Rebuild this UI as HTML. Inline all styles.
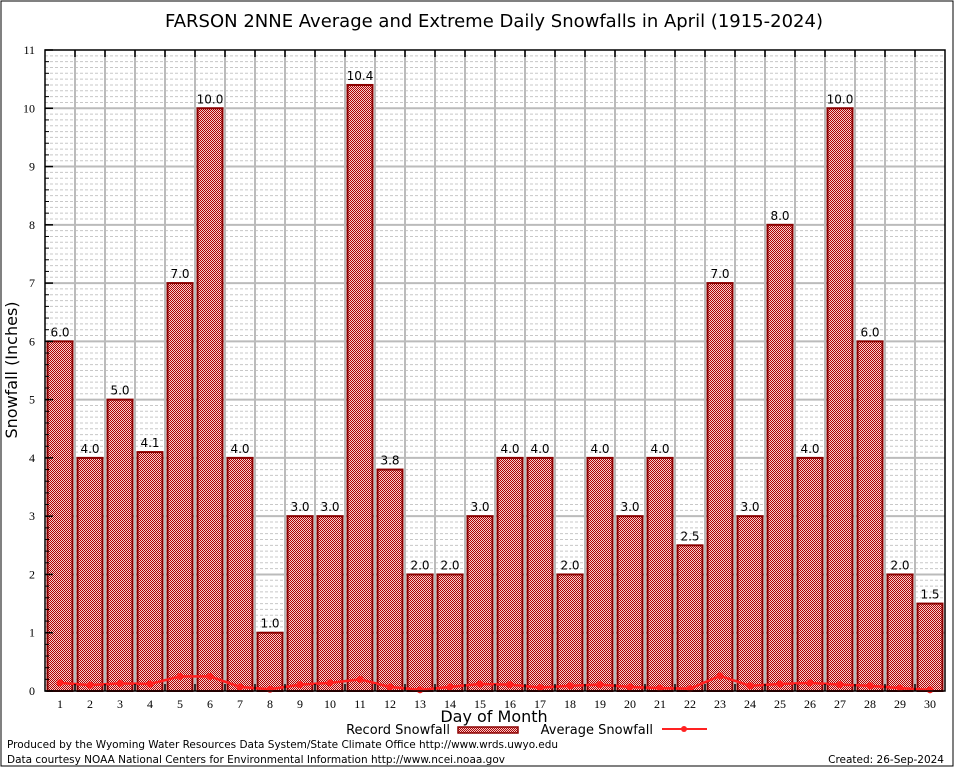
<!DOCTYPE html>
<html><head><meta charset="utf-8"><style>
html,body{margin:0;padding:0;background:#fff}
svg{display:block}
</style></head><body>
<svg id="chart" width="954" height="768" xmlns="http://www.w3.org/2000/svg">
<defs>
<pattern id="chk" width="2" height="2" patternUnits="userSpaceOnUse">
<rect width="2" height="2" fill="#f4d0d0" shape-rendering="crispEdges"/>
<rect width="1" height="1" fill="#b00000" shape-rendering="crispEdges"/>
<rect x="1" y="1" width="1" height="1" fill="#b00000" shape-rendering="crispEdges"/>
</pattern>
</defs>
<rect x="1" y="1" width="952" height="765" fill="none" stroke="#000" stroke-width="1"/>
<text x="494" y="27" text-anchor="middle" font-family="DejaVu Sans, Liberation Sans, sans-serif" font-size="18">FARSON 2NNE Average and Extreme Daily Snowfalls in April (1915-2024)</text>
<g id="grid"></g>
<g id="bars"></g>
<g id="avg"></g>
<g id="axes"></g>
<text x="17" y="370" transform="rotate(-90 17 370)" text-anchor="middle" font-family="DejaVu Sans, Liberation Sans, sans-serif" font-size="16">Snowfall (Inches)</text>
<text x="494" y="722" text-anchor="middle" font-family="DejaVu Sans, Liberation Sans, sans-serif" font-size="16">Day of Month</text>
<g>
<text x="450" y="734" text-anchor="end" font-family="DejaVu Sans, Liberation Sans, sans-serif" font-size="13">Record Snowfall</text>
<rect x="458" y="727" width="60" height="6" fill="url(#chk)" stroke="#8b0000" stroke-width="1.5"/>
<text x="653" y="734" text-anchor="end" font-family="DejaVu Sans, Liberation Sans, sans-serif" font-size="13">Average Snowfall</text>
<line x1="662" y1="729" x2="707" y2="729" stroke="#f22" stroke-width="2"/>
<circle cx="684" cy="729" r="3" fill="#f22"/>
</g>
<text x="7" y="748" font-family="DejaVu Sans, Liberation Sans, sans-serif" font-size="10.5" textLength="551">Produced by the Wyoming Water Resources Data System/State Climate Office http://www.wrds.uwyo.edu</text>
<text x="7" y="763" font-family="DejaVu Sans, Liberation Sans, sans-serif" font-size="10.5" textLength="498">Data courtesy NOAA National Centers for Environmental Information http://www.ncei.noaa.gov</text>
<text x="944" y="763" text-anchor="end" font-family="DejaVu Sans, Liberation Sans, sans-serif" font-size="10.5">Created: 26-Sep-2024</text>
</svg>
<script>
const days = [1,2,3,4,5,6,7,8,9,10,11,12,13,14,15,16,17,18,19,20,21,22,23,24,25,26,27,28,29,30];
const recordSnow = [6.0,4.0,5.0,4.1,7.0,10.0,4.0,1.0,3.0,3.0,10.4,3.8,2.0,2.0,3.0,4.0,4.0,2.0,4.0,3.0,4.0,2.5,7.0,3.0,8.0,4.0,10.0,6.0,2.0,1.5];
const avgSnow = [0.14,0.10,0.13,0.12,0.25,0.25,0.07,0.03,0.11,0.14,0.20,0.07,0.02,0.07,0.12,0.11,0.06,0.09,0.11,0.07,0.05,0.04,0.26,0.09,0.12,0.14,0.11,0.09,0.05,0.02];
const yTicks = [0,1,2,3,4,5,6,7,8,9,10,11];

const NS='http://www.w3.org/2000/svg';
const X0=45,X1=945,Y0=691,Y1=50,YMAX=11;
const slot=(X1-X0)/days.length;
const xc=d=>X0+slot*(d-0.5);
const yv=v=>Y0-(Y0-Y1)*v/YMAX;
function mk(t,a,p){const e=document.createElementNS(NS,t);for(const k in a)e.setAttribute(k,a[k]);p.appendChild(e);return e;}
const grid=document.getElementById('grid'),bars=document.getElementById('bars'),avg=document.getElementById('avg'),axes=document.getElementById('axes');

for(let i=1;i<YMAX*10;i++){ if(i%10===0)continue;
 const l=mk('line',{x1:X0,x2:X1,y1:yv(i/10),y2:yv(i/10),stroke:'#c8c8c8','stroke-width':1,'stroke-dasharray':'3,2'},grid);
 
 
}
yTicks.forEach(t=>{
 if(t>0&&t<YMAX){const l=mk('line',{x1:X0,x2:X1,y1:yv(t),y2:yv(t),stroke:'#bbb','stroke-width':2},grid);
 
 }
 const tx=mk('text',{x:X0-10,y:yv(t)+4,'text-anchor':'end','font-family':'Liberation Serif, serif','font-size':12},axes);
 tx.textContent=t;
 
 
 const tk=mk('line',{x1:X0,x2:X0+8,y1:yv(t),y2:yv(t),stroke:'#000','stroke-width':1.5},axes);
 
 
});
for(let i=1;i<YMAX*5;i++){
 const tk=mk('line',{x1:X0,x2:X0+4,y1:yv(i/5),y2:yv(i/5),stroke:'#000','stroke-width':1},axes);
 
 
}
for(let i=1;i<days.length;i++){
 const x=X0+slot*i;
 const l=mk('line',{x1:x,x2:x,y1:Y1,y2:Y0,stroke:'#bbb','stroke-width':2},grid);
 
 
 const t1=mk('line',{x1:x,x2:x,y1:Y1,y2:Y1+7,stroke:'#000','stroke-width':1.5},axes);
 
 
 const t2=mk('line',{x1:x,x2:x,y1:Y0,y2:Y0-7,stroke:'#000','stroke-width':1.5},axes);
 
 
}
days.forEach((d,i)=>{
 const v=recordSnow[i];
 const r=mk('rect',{x:xc(d)-12.5,y:yv(v),width:25,height:Y0-yv(v),fill:'url(#chk)',stroke:'#8b0000','stroke-width':2},bars);
 
 
 const t=mk('text',{x:xc(d),y:yv(v)-5,'text-anchor':'middle','font-family':'DejaVu Sans, Liberation Sans, sans-serif','font-size':12},bars);
 t.textContent=v.toFixed(1);
 
 
 const xl=mk('text',{x:xc(d),y:Y0+17,'text-anchor':'middle','font-family':'Liberation Serif, serif','font-size':12},axes);
 xl.textContent=d;
 
 
});
const pts=days.map((d,i)=>xc(d)+','+yv(avgSnow[i])).join(' ');
const pl=mk('polyline',{points:pts,fill:'none',stroke:'#ff2020','stroke-width':2.5},avg);


days.forEach((d,i)=>{
 const c=mk('circle',{cx:xc(d),cy:yv(avgSnow[i]),r:3.5,fill:'#ff2020'},avg);
 
 
});
const fr=mk('rect',{x:X0,y:Y1,width:X1-X0,height:Y0-Y1,fill:'none',stroke:'#000','stroke-width':1.5},axes);


</script>
</body></html>
